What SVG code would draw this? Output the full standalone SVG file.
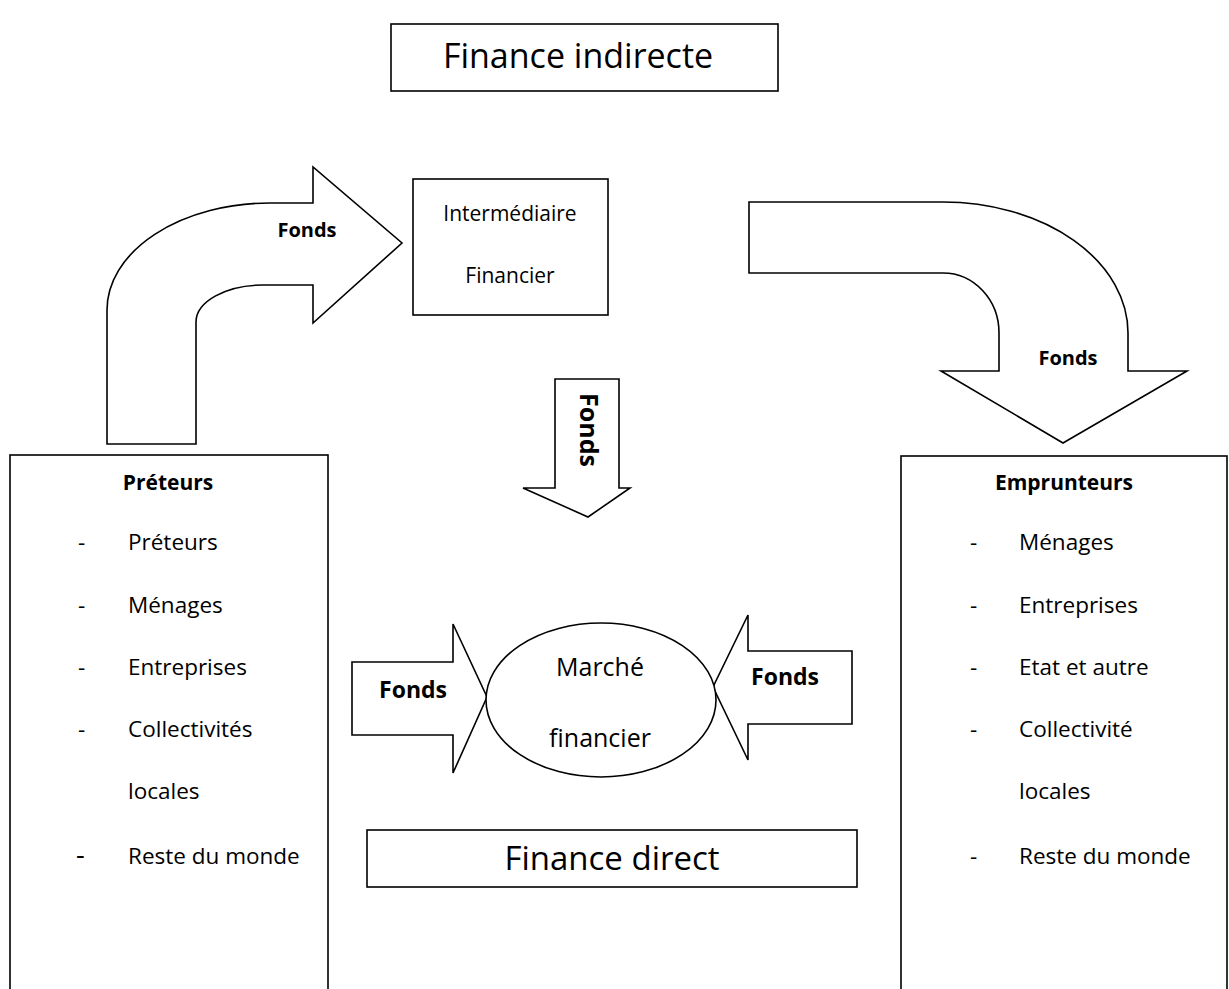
<svg xmlns="http://www.w3.org/2000/svg" width="1229" height="989" viewBox="0 0 1229 989">
<style>
.sh{fill:#fff;stroke:#000;stroke-width:1.6;stroke-linejoin:miter}
.t{font-family:"Open Sans","Liberation Sans",sans-serif;fill:#000}
.b{font-weight:bold}
.it{font-size:22.5px}
</style>
<rect width="1229" height="989" fill="#fff"/>
<g id="finance-indirecte">
<rect class="sh" x="391" y="24" width="387" height="67"/>
<text class="t" x="578" y="68" font-size="34" text-anchor="middle">Finance indirecte</text>
</g>
<g id="connectors">
<path id="arrow-left-curve" class="sh" d="M107,444 L107,310 A163,107 0 0 1 270,203 L313,203 L313,167 L402,243 L313,323 L313,285 L263,285 A67,37 0 0 0 196,322 L196,444 Z"/>
<text class="t b" x="307" y="237" font-size="20" text-anchor="middle">Fonds</text>
<path id="arrow-right-curve" class="sh" d="M749,202 L943,202 A185,131 0 0 1 1128,333 L1128,371 L1187,371 L1063,443 L941,371 L999,371 L999,333 A56,60 0 0 0 943,273 L749,273 Z"/>
<text class="t b" x="1068" y="365" font-size="20" text-anchor="middle">Fonds</text>
<path id="arrow-down" class="sh" d="M555,379 L619,379 L619,488 L630,488 L588,517 L523,488 L555,488 Z"/>
<text class="t b" x="0" y="0" font-size="25" text-anchor="middle" transform="translate(580,430) rotate(90)">Fonds</text>
<path id="arrow-market-left" class="sh" d="M352,662 L453,662 L453,624 L487,697 L453,773 L453,735 L352,735 Z"/>
<text class="t b" x="413" y="698" font-size="23" text-anchor="middle">Fonds</text>
<path id="arrow-market-right" class="sh" d="M852,651 L748,651 L748,615 L713,687 L748,760 L748,724 L852,724 Z"/>
<text class="t b" x="785" y="685" font-size="23" text-anchor="middle">Fonds</text>
</g>
<g id="intermediaire">
<rect class="sh" x="413" y="179" width="195" height="136"/>
<text class="t" x="510" y="221" font-size="21" text-anchor="middle">Intermédiaire</text>
<text class="t" x="510" y="283" font-size="21" text-anchor="middle">Financier</text>
</g>
<g id="marche">
<ellipse class="sh" cx="601" cy="700" rx="115" ry="77"/>
<text class="t" x="600" y="676" font-size="25" text-anchor="middle">Marché</text>
<text class="t" x="600" y="747" font-size="25" text-anchor="middle">financier</text>
</g>
<g id="preteurs">
<rect class="sh" x="10" y="455" width="318" height="560"/>
<text class="t b" x="168" y="490" font-size="21" text-anchor="middle">Préteurs</text>
<g class="t it">
<text x="78" y="550">-</text><text x="128" y="550">Préteurs</text>
<text x="78" y="613">-</text><text x="128" y="613">Ménages</text>
<text x="78" y="675">-</text><text x="128" y="675">Entreprises</text>
<text x="78" y="737">-</text><text x="128" y="737">Collectivités</text>
<text x="128" y="799">locales</text>
<text x="76" y="864" font-size="27">-</text><text x="128" y="864">Reste du monde</text>
</g>
</g>
<g id="emprunteurs">
<rect class="sh" x="901" y="456" width="326" height="560"/>
<text class="t b" x="1064" y="490" font-size="21" text-anchor="middle">Emprunteurs</text>
<g class="t it">
<text x="970" y="550">-</text><text x="1019" y="550">Ménages</text>
<text x="970" y="613">-</text><text x="1019" y="613">Entreprises</text>
<text x="970" y="675">-</text><text x="1019" y="675">Etat et autre</text>
<text x="970" y="737">-</text><text x="1019" y="737">Collectivité</text>
<text x="1019" y="799">locales</text>
<text x="970" y="864">-</text><text x="1019" y="864">Reste du monde</text>
</g>
</g>
<g id="finance-direct">
<rect class="sh" x="367" y="830" width="490" height="57"/>
<text class="t" x="612" y="870" font-size="33" text-anchor="middle">Finance direct</text>
</g>
</svg>
